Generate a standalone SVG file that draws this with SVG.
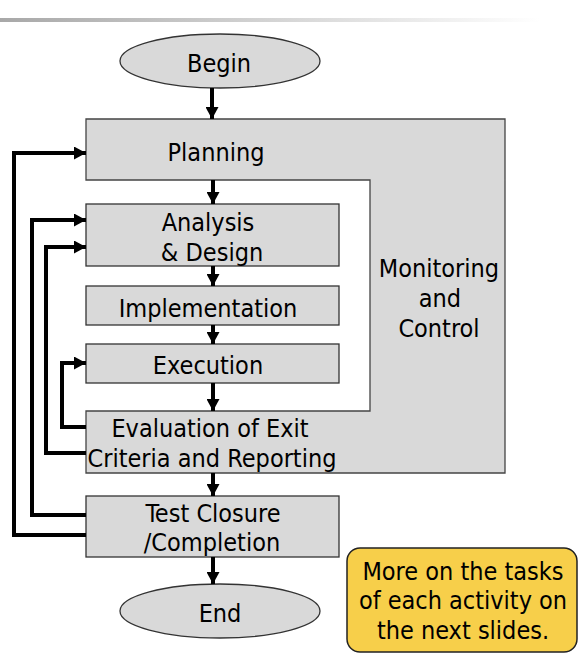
<svg xmlns="http://www.w3.org/2000/svg" width="582" height="664" viewBox="0 0 582 664">
<defs>
<linearGradient id="bar" x1="0" y1="0" x2="1" y2="0">
<stop offset="0" stop-color="#a8a8a8"/>
<stop offset="1" stop-color="#ffffff"/>
</linearGradient>
<marker id="ah" markerUnits="userSpaceOnUse" markerWidth="12" markerHeight="13" refX="12" refY="6.5" orient="auto">
<path d="M0,0 L12,6.5 L0,13 z" fill="#000"/>
</marker>
<style>
.box{fill:#d9d9d9;stroke:#333;stroke-width:1.3}
.big{fill:#d9d9d9;stroke:#444;stroke-width:1.3}
.t{font-family:"DejaVu Sans Condensed","DejaVu Sans",Verdana,sans-serif;font-stretch:condensed;font-size:25px;fill:#000;text-anchor:middle}
.c{fill:none;stroke:#000;stroke-width:4;marker-end:url(#ah)}
</style>
</defs>
<rect x="0" y="18" width="540" height="4" fill="url(#bar)"/>
<g id="monitoring">
<path class="big" d="M86,119 H505 V473 H86 V411 H370 V180 H86 Z"/>
<text class="t" x="439" y="277">Monitoring</text>
<text class="t" x="440" y="307">and</text>
<text class="t" x="439" y="337">Control</text>
</g>
<g id="planning"><text class="t" x="216" y="161">Planning</text></g>
<g id="evaluation">
<text class="t" x="210" y="437">Evaluation of Exit</text>
<text class="t" x="212" y="467">Criteria and Reporting</text>
</g>
<g id="begin">
<ellipse class="box" cx="220" cy="61" rx="100" ry="27"/>
<text class="t" x="219" y="72">Begin</text>
</g>
<g id="analysis">
<rect class="box" x="86" y="204" width="253" height="62"/>
<text class="t" x="208" y="231">Analysis</text>
<text class="t" x="212" y="261">&amp; Design</text>
</g>
<g id="implementation">
<rect class="box" x="86" y="286" width="253" height="39"/>
<text class="t" x="208" y="317">Implementation</text>
</g>
<g id="execution">
<rect class="box" x="86" y="344" width="253" height="39"/>
<text class="t" x="208" y="374">Execution</text>
</g>
<g id="closure">
<rect class="box" x="86" y="496" width="253" height="61"/>
<text class="t" x="213" y="522">Test Closure</text>
<text class="t" x="212" y="551">/Completion</text>
</g>
<g id="end">
<ellipse class="box" cx="220" cy="611" rx="100" ry="27"/>
<text class="t" x="220" y="622">End</text>
</g>
<g id="note">
<rect x="347" y="548" width="230" height="104" rx="13" fill="#f7cf4a" stroke="#222" stroke-width="1.5"/>
<text class="t" x="463" y="580">More on the tasks</text>
<text class="t" x="463" y="609">of each activity on</text>
<text class="t" x="463" y="639">the next slides.</text>
</g>
<g id="connectors">
<path class="c" d="M212,88 V119"/>
<path class="c" d="M213,180 V204"/>
<path class="c" d="M213,266 V286"/>
<path class="c" d="M213,325 V344"/>
<path class="c" d="M213,383 V411"/>
<path class="c" d="M213,473 V496"/>
<path class="c" d="M213,557 V584"/>
<path class="c" d="M86,535 H14 V153 H86"/>
<path class="c" d="M86,515 H32 V220 H86"/>
<path class="c" d="M86,453 H46 V247 H86"/>
<path class="c" d="M86,427 H62 V363 H86"/>
</g>
</svg>
